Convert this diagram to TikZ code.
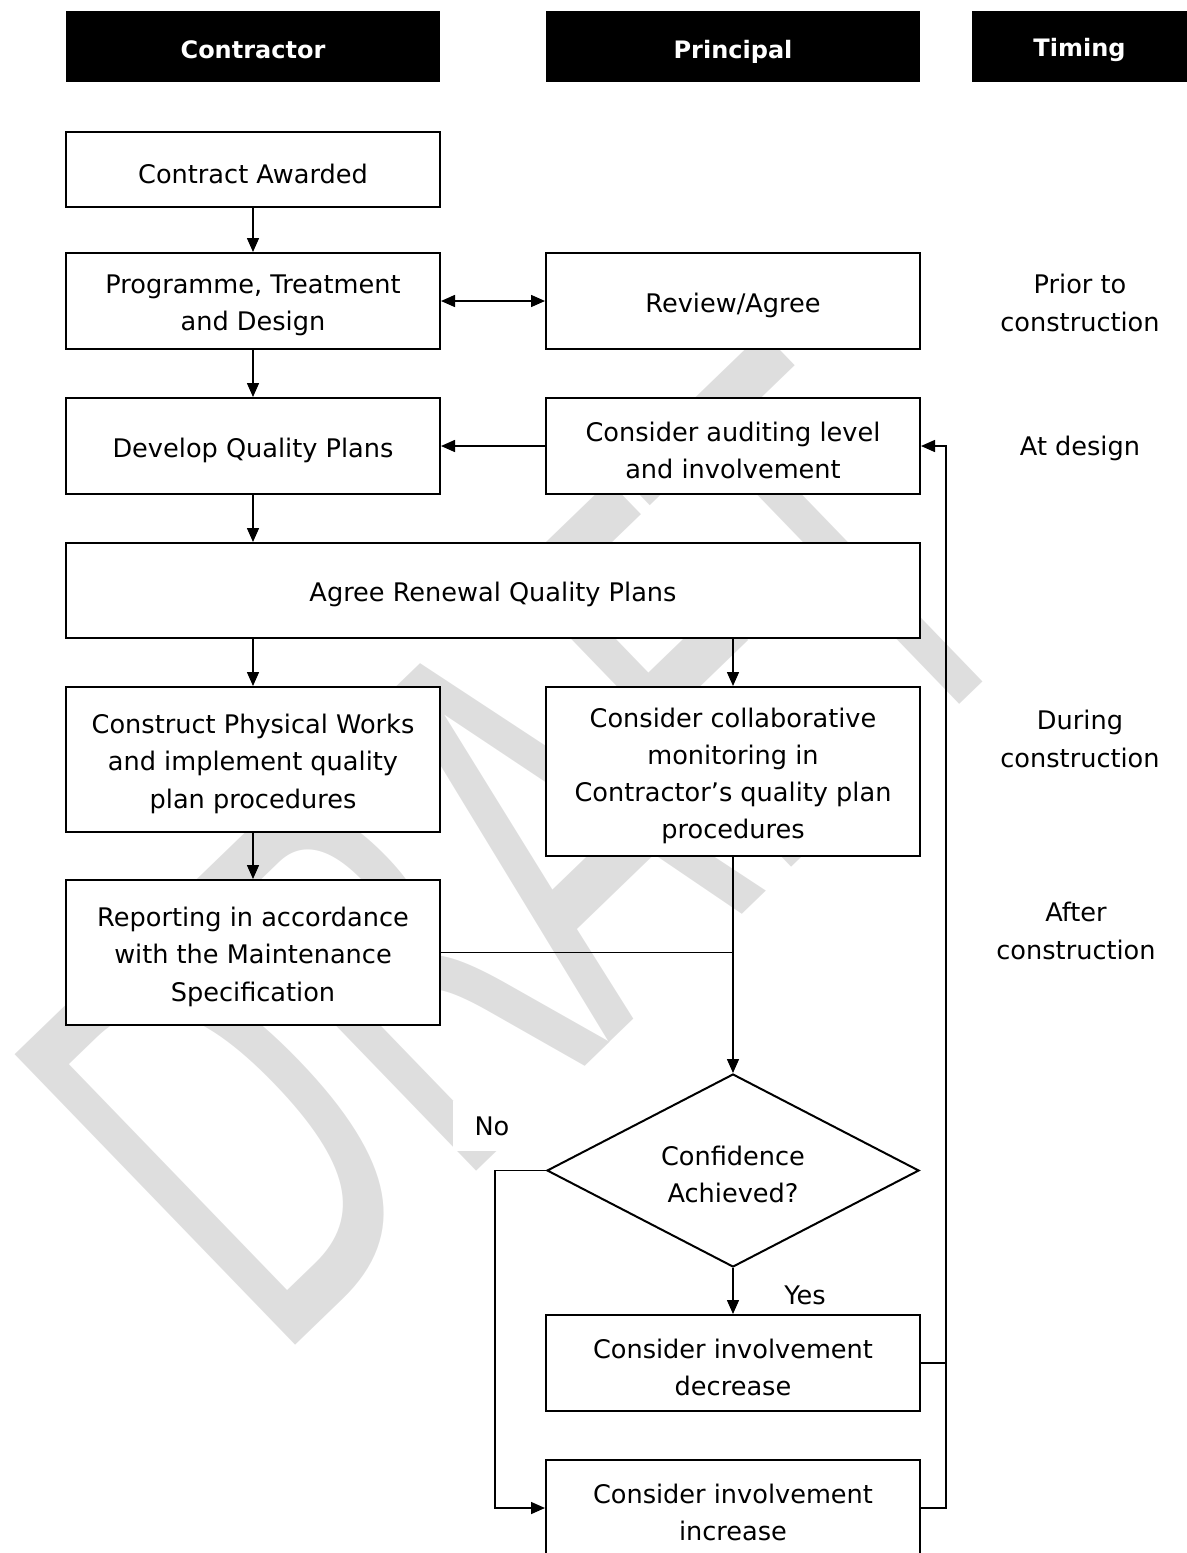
\documentclass[tikz,border=0pt]{standalone}
\usepackage{fontspec}
\setmainfont{DejaVu Sans}
\usetikzlibrary{arrows.meta,shapes.geometric}
\newcommand\tstrut{\rule{0pt}{14pt}}
\begin{document}
\begin{tikzpicture}[x=0.5pt,y=-0.5pt,
  box/.style={draw=black,line width=1pt,fill=white,inner sep=0pt,align=center,
    minimum width=187pt,font=\fontsize{12.8}{18.6}\selectfont},
  head/.style={fill=black,text=white,inner sep=0pt,minimum height=35.5pt,
    text height=12.3pt,text depth=0pt,font=\fontsize{12}{14}\selectfont\bfseries},
  tip/.style={line width=0.75pt},
  conn/.style={line width=0.75pt,-{Triangle[length=7pt,width=6pt]}},
  both/.style={line width=0.75pt,{Triangle[length=7pt,width=6pt]}-{Triangle[length=7pt,width=6pt]}},
  lab/.style={inner sep=0pt,align=center,font=\fontsize{12.8}{18.6}\selectfont}]
\useasboundingbox (0,0) rectangle (1187,1553);
\clip (0,0) rectangle (1187,1553);
% watermark
\node[rotate=44, xscale=0.59, anchor=base west, inner sep=0pt, text=black!13,
  font=\fontsize{277}{277}\selectfont] (wm) at (272,1368) {DRAFT};
% headers
\node[head,minimum width=187pt] (hc) at (253,46.5) {Contractor};
\node[head,minimum width=187pt] (hp) at (733,46.5) {Principal};
\node[head,minimum width=107.5pt,text height=10.3pt] (ht) at (1079.5,46.5) {Timing};
% boxes
\node[box,minimum height=37.5pt] (ca) at (253,169.5) {\tstrut Contract Awarded};
\node[box,minimum height=48pt] (ptd) at (253,301) {\tstrut Programme, Treatment\\and Design};
\node[box,minimum height=48pt] (ra) at (733,301) {\tstrut Review/Agree};
\node[box,minimum height=48pt] (dqp) at (253,446) {\tstrut Develop Quality Plans};
\node[box,minimum height=48pt] (cal) at (733,446) {\tstrut Consider auditing level\\and involvement};
\node[box,minimum width=427pt,minimum height=47.5pt] (arq) at (493,590.5) {\tstrut Agree Renewal Quality Plans};
\node[box,minimum height=72.5pt] (cpw) at (253,759.5) {\tstrut Construct Physical Works\\and implement quality\\plan procedures};
\node[box,minimum height=84.5pt] (ccm) at (733,771.5) {\tstrut Consider collaborative\\monitoring in\\Contractor’s quality plan\\procedures};
\node[box,minimum height=72.5pt] (rep) at (253,952.5) {\tstrut Reporting in accordance\\with the Maintenance\\Specification};
\node[box,shape=diamond,aspect=1.93,minimum width=186pt,minimum height=96.5pt] (dia) at (733,1170.5) {\tstrut Confidence\\Achieved?};
\node[box,minimum height=48pt] (dec) at (733,1363) {\tstrut Consider involvement\\decrease};
\node[box,minimum height=48pt] (inc) at (733,1508) {\tstrut Consider involvement\\increase};
% timing labels
\node[lab] (t1) at (1080,303) {Prior to\\construction};
\node[lab] (t2) at (1080,448) {At design};
\node[lab] (t3) at (1080,739) {During\\construction};
\node[lab] (t4) at (1076,931) {After\\construction};
% decision labels
\node[lab,fill=white,minimum width=39pt,minimum height=25pt] (no) at (492,1126) {No};
\node[lab] (yes) at (805,1295) {Yes};
% connectors
\draw[conn] (ca.south) -- (ptd.north);
\draw[both] (ptd.east) -- (ra.west);
\draw[conn] (ptd.south) -- (dqp.north);
\draw[conn] (cal.west) -- (dqp.east);
\draw[conn] (dqp.south) -- (dqp.south |- arq.north);
\draw[conn] (cpw.north |- arq.south) -- (cpw.north);
\draw[conn] (ccm.north |- arq.south) -- (ccm.north);
\draw[conn] (cpw.south) -- (rep.north);
\draw[conn] (ccm.south) -- (dia.north);
\coordinate (j) at (733,952.5);
\draw[tip] (rep.east) -- (j);
\draw[conn] (dia.south) -- (dec.north);
\coordinate (nl) at (495,1170.5);
\draw[conn] (dia.west) -- (nl) |- (inc.west);
\coordinate (fb) at (946,900);
\draw[tip] (dec.east) -- (dec.east -| fb);
\draw[conn] (inc.east) -| (fb) |- (cal.east);
\end{tikzpicture}
\end{document}
